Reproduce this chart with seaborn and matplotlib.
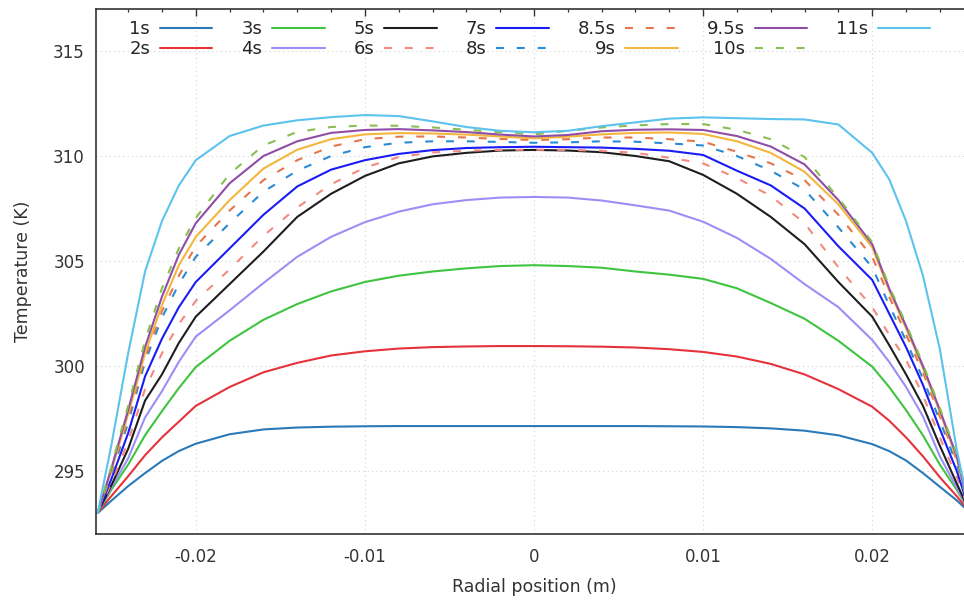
import numpy as np
import pandas as pd
import matplotlib.pyplot as plt
import matplotlib.ticker as mticker
import seaborn as sns

# radial positions (m), shared by every profile
radius = [-0.0258, -0.025, -0.024, -0.023, -0.022, -0.021, -0.020, -0.018, -0.016,
          -0.014, -0.012, -0.010, -0.008, -0.006, -0.004, -0.002, 0.0,
          0.002, 0.004, 0.006, 0.008, 0.010, 0.012, 0.014, 0.016, 0.018,
          0.020, 0.021, 0.022, 0.023, 0.024, 0.025, 0.0258]

# temperature profiles (K)
t_1s = [293.0, 293.58, 294.28, 294.9, 295.48, 295.95, 296.3, 296.75, 296.98,
        297.07, 297.11, 297.13, 297.14, 297.14, 297.14, 297.14, 297.14,
        297.14, 297.14, 297.14, 297.13, 297.12, 297.09, 297.03, 296.92, 296.7,
        296.28, 295.95, 295.5, 294.9, 294.25, 293.6, 293.0]
t_2s = [293.0, 293.8, 294.75, 295.75, 296.6, 297.35, 298.1, 299.0, 299.7,
        300.15, 300.5, 300.7, 300.83, 300.9, 300.93, 300.95, 300.95,
        300.94, 300.92, 300.88, 300.8, 300.67, 300.45, 300.1, 299.6, 298.9,
        298.06, 297.4, 296.6, 295.7, 294.7, 293.8, 293.0]
t_3s = [293.0, 294.1, 295.3, 296.7, 297.85, 298.95, 299.95, 301.2, 302.2,
        302.95, 303.55, 304.0, 304.3, 304.5, 304.65, 304.76, 304.8,
        304.76, 304.68, 304.5, 304.35, 304.15, 303.7, 303.0, 302.25, 301.2,
        299.97, 299.0, 297.9, 296.7, 295.3, 294.1, 293.0]
t_4s = [293.0, 294.2, 295.6, 297.55, 298.8, 300.2, 301.4, 302.65, 303.95,
        305.2, 306.15, 306.85, 307.35, 307.7, 307.9, 308.02, 308.05,
        308.02, 307.88, 307.65, 307.4, 306.87, 306.1, 305.1, 303.9, 302.8,
        301.24, 300.2, 299.0, 297.6, 295.7, 294.2, 293.0]
t_5s = [293.0, 294.3, 296.05, 298.35, 299.6, 301.1, 302.35, 303.9, 305.45,
        307.1, 308.2, 309.05, 309.65, 309.98, 310.15, 310.26, 310.29,
        310.26, 310.18, 310.0, 309.75, 309.1, 308.2, 307.1, 305.8, 304.0,
        302.35, 301.0, 299.6, 298.1, 296.2, 294.4, 293.0]
t_6s = [293.0, 294.4, 296.4, 298.9, 300.6, 302.0, 303.1, 304.6, 306.2,
        307.55, 308.65, 309.45, 309.95, 310.17, 310.25, 310.29, 310.3,
        310.29, 310.25, 310.15, 309.92, 309.65, 308.95, 308.1, 306.8, 304.7,
        302.8, 301.5, 300.3, 298.6, 296.6, 294.7, 293.0]
t_7s = [293.0, 294.6, 296.8, 299.5, 301.3, 302.8, 304.0, 305.6, 307.2,
        308.55, 309.35, 309.8, 310.1, 310.28, 310.38, 310.42, 310.44,
        310.42, 310.4, 310.34, 310.25, 310.05, 309.3, 308.6, 307.5, 305.7,
        304.1, 302.5, 300.9, 299.1, 297.0, 295.0, 293.0]
t_8s = [293.0, 294.8, 297.3, 300.2, 302.3, 303.9, 305.2, 306.8, 308.3,
        309.3, 310.0, 310.42, 310.63, 310.7, 310.7, 310.67, 310.63,
        310.65, 310.7, 310.68, 310.6, 310.5, 310.0, 309.3, 308.4, 306.6,
        304.7, 302.9, 301.2, 299.4, 297.4, 295.3, 293.0]
t_8_5s = [293.0, 294.9, 297.5, 300.4, 302.6, 304.3, 305.7, 307.4, 308.85,
          309.8, 310.45, 310.8, 310.92, 310.93, 310.88, 310.81, 310.76,
          310.8, 310.88, 310.88, 310.8, 310.68, 310.2, 309.65, 308.85, 307.2,
          305.2, 303.3, 301.5, 299.7, 297.6, 295.5, 293.0]
t_9s = [293.0, 295.0, 297.7, 300.6, 302.9, 304.8, 306.15, 307.9, 309.4,
        310.3, 310.8, 311.03, 311.09, 311.07, 311.02, 310.93, 310.84,
        310.92, 311.03, 311.1, 311.12, 311.05, 310.7, 310.15, 309.25, 307.7,
        305.65, 303.6, 301.8, 299.9, 297.8, 295.6, 293.0]
t_9_5s = [293.0, 295.1, 297.9, 300.9, 303.3, 305.3, 306.8, 308.7, 310.0,
          310.7, 311.1, 311.24, 311.28, 311.22, 311.14, 311.02, 310.93,
          311.0, 311.18, 311.25, 311.27, 311.24, 310.95, 310.45, 309.6, 307.9,
          305.8, 303.7, 301.9, 300.0, 297.9, 295.7, 293.0]
t_10s = [293.0, 295.2, 298.1, 301.2, 303.7, 305.6, 307.05, 309.15, 310.5,
         311.15, 311.38, 311.45, 311.44, 311.36, 311.25, 311.13, 311.03,
         311.2, 311.36, 311.46, 311.52, 311.52, 311.25, 310.8, 309.95, 308.0,
         305.9, 303.8, 302.0, 300.1, 298.0, 295.8, 293.0]
t_11s = [293.0, 296.2, 300.6, 304.5, 306.9, 308.6, 309.8, 310.95, 311.45,
         311.7, 311.85, 311.95, 311.9, 311.65, 311.38, 311.2, 311.13,
         311.2, 311.42, 311.6, 311.78, 311.84, 311.8, 311.76, 311.74, 311.5,
         310.15, 308.9, 306.9, 304.3, 300.8, 296.0, 293.0]

labels = ["1s", "2s", "3s", "4s", "5s", "6s", "7s", "8s", "8.5s", "9s", "9.5s", "10s", "11s"]
profiles = [t_1s, t_2s, t_3s, t_4s, t_5s, t_6s, t_7s, t_8s, t_8_5s, t_9s, t_9_5s, t_10s, t_11s]
colors = ["#2a7ab9", "#e5323b", "#3ec43e", "#9c8ef7", "#1e1e1e", "#f28a80", "#1b1bf5",
          "#2a8bd4", "#e5764c", "#f4b63c", "#8e4da6", "#8abd52", "#5cc3ee"]
dashed = [False, False, False, False, False, True, False, True, True, False, False, True, False]

xtick_vals = [-0.02, -0.01, 0.0, 0.01, 0.02]
xtick_labels = ["-0.02", "-0.01", "0", "0.01", "0.02"]
ytick_vals = [295, 300, 305, 310, 315]


def main():
    sns.set_theme(style="white")
    plt.rcParams["font.family"] = ["DejaVu Sans"]
    plt.rcParams["axes.unicode_minus"] = False

    fig = plt.figure(figsize=(9.64, 6.01), dpi=100)
    ax = fig.add_axes([96 / 964, 67 / 601, 876 / 964, 525 / 601])

    for lab, vals, col, dash in zip(labels, profiles, colors, dashed):
        ls = (0, (3.8, 6.2)) if dash else "-"
        sns.lineplot(x=radius, y=vals, color=col, linestyle=ls, linewidth=1.5,
                     label=lab, sort=False, estimator=None, ax=ax)

    ax.set_xlim(-0.0259, 0.0259)
    ax.set_ylim(292.0, 317.0)
    ax.set_xticks(xtick_vals)
    ax.set_xticklabels(xtick_labels)
    ax.set_yticks(ytick_vals)
    ax.xaxis.set_minor_locator(mticker.MultipleLocator(0.002))
    ax.yaxis.set_minor_locator(mticker.MultipleLocator(1))

    ax.tick_params(which="both", direction="in", top=True, right=True,
                   color="#333333", labelcolor="#333333", labelsize=12)
    ax.tick_params(which="major", length=5, width=1.0)
    ax.tick_params(which="minor", length=2.5, width=0.9)
    ax.tick_params(axis="y", which="major", pad=8)
    ax.tick_params(axis="x", which="major", pad=10)

    for sp in ax.spines.values():
        sp.set_color("#333333")
        sp.set_linewidth(1.2)

    ax.grid(True, which="major", color="#d2d2d2", linestyle=(0, (1, 3)), linewidth=0.8)
    ax.set_axisbelow(True)

    ax.set_xlabel("Radial position (m)", fontsize=12.5, color="#333333", labelpad=9)
    ax.set_ylabel("Temperature (K)", fontsize=12.5, color="#333333", labelpad=15)

    ax.legend(loc="upper left", bbox_to_anchor=(0.038, 0.979), ncol=7, frameon=False,
              markerfirst=False, fontsize=13, handlelength=2.9, handletextpad=0.55,
              columnspacing=1.6, labelspacing=0.12, borderpad=0, borderaxespad=0)

    fig.savefig("out.png", dpi=100)


if __name__ == "__main__":
    main()
